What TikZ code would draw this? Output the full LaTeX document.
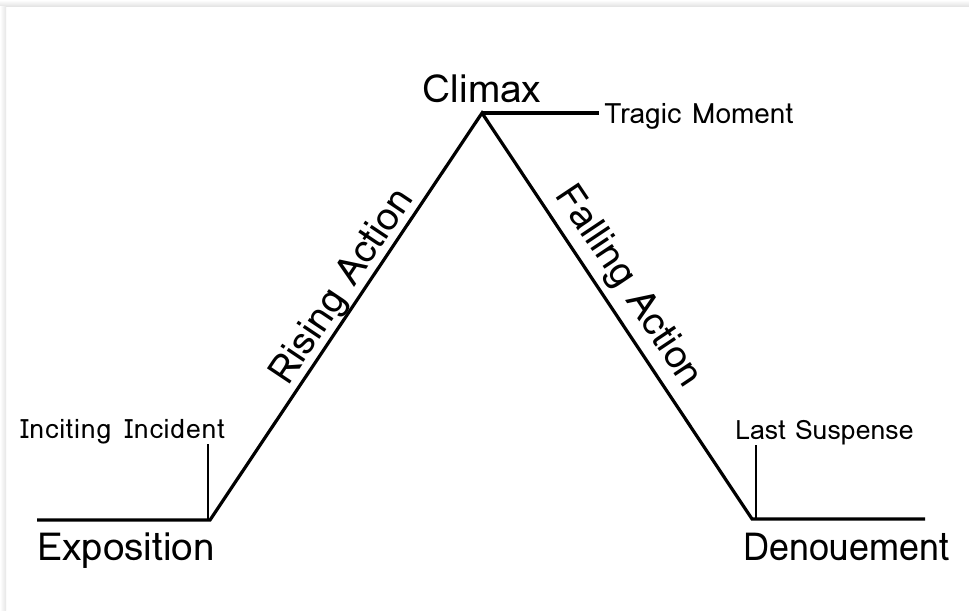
\documentclass[tikz,border=0pt]{standalone}
\usepackage{fontspec}
\setmainfont{Loma}
\begin{document}
\begin{tikzpicture}[x=0.75pt,y=-0.75pt,
  plotline/.style={line width=2.4pt,black},
  bigtext/.style={font=\fontsize{29}{32}\selectfont,inner sep=0pt},
  smalltext/.style={font=\fontsize{20}{22}\selectfont,inner sep=0pt}]
\useasboundingbox (0,0) rectangle (969,610);
\fill[white] (0,0) rectangle (969,610);
\shade[top color=white,bottom color=black!12] (0,0) rectangle (969,7);
\shade[left color=white,right color=black!10] (0,7) rectangle (6,610);
\coordinate (expL) at (37,520);
\coordinate (expR) at (210,520);
\coordinate (top) at (482,113);
\coordinate (trag) at (599,113);
\coordinate (denL) at (752,519);
\coordinate (denR) at (925,519);
\coordinate (incTop) at (208,444);
\coordinate (incBot) at (208,520);
\coordinate (lsTop) at (756,445);
\coordinate (lsBot) at (756,519);
\draw[plotline,line join=miter] (expL) -- (expR) -- (top) -- (denL) -- (denR);
\draw[plotline] (top) -- (trag);
\draw[line width=2.2pt] (incTop) -- (incBot);
\draw[line width=2.2pt] (lsTop) -- (lsBot);
\node[bigtext,anchor=base] (climax) at (482,102) {Climax};
\node[bigtext,anchor=base west] (expo) at (37,560) {Exposition};
\node[bigtext,anchor=base west,xscale=0.93] (deno) at (743,560) {Denouement};
\node[smalltext,font=\fontsize{21}{24}\selectfont,anchor=base west] (tragic) at (604,123) {Tragic\hspace{0.4em}Moment};
\node[smalltext,anchor=base west] (incit) at (20,438) {\addfontfeature{LetterSpace=3}Inciting\hspace{0.5em}Incident};
\node[smalltext,anchor=base west] (last) at (735,439) {Last\hspace{0.35em}Suspense};
\node[bigtext,rotate=56.25] (rising) at (343,287) {Rising Action};
\node[bigtext,rotate=-56.25] (falling) at (628,287) {Falling Action};
\end{tikzpicture}
\end{document}
